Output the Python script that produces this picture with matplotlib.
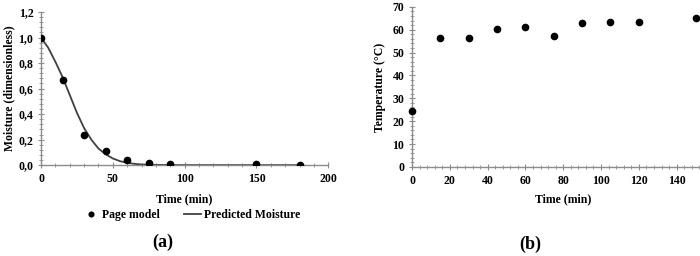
import matplotlib.pyplot as plt
from matplotlib.ticker import MultipleLocator

plt.rcParams['font.family'] = ['Liberation Serif', 'DejaVu Serif']
plt.rcParams['font.weight'] = 'bold'

# (a) drying data
tiempo_a = [0, 15, 30, 45, 60, 75, 90, 150, 180]
humedad = [1.0, 0.67, 0.24, 0.11, 0.04, 0.015, 0.01, 0.007, 0.0]
# predicted curve
tiempo_pred = [0, 5, 10, 15, 20, 25, 30, 35, 40, 45, 50, 55, 60, 65, 70, 80, 90, 100, 120, 150, 180]
humedad_pred = [1.0, 0.92, 0.81, 0.69, 0.55, 0.41, 0.29, 0.20, 0.13, 0.085, 0.052, 0.031, 0.018,
                0.010, 0.005, 0.002, 0.0005, 0.0, 0.0, 0.0, 0.0]
yticks_a = [0.0, 0.2, 0.4, 0.6, 0.8, 1.0, 1.2]
yticklabels_a = ['0,0', '0,2', '0,4', '0,6', '0,8', '1,0', '1,2']
xticks_a = [0, 50, 100, 150, 200]

# (b) temperature
tiempo_b = [0, 15, 30, 45, 60, 75, 90, 105, 120, 150]
temperatura = [24.5, 56.3, 56.2, 60.2, 61.2, 57.3, 63.1, 63.2, 63.5, 65.0]
yticks_b = [0, 10, 20, 30, 40, 50, 60, 70]
xticks_b = [0, 20, 40, 60, 80, 100, 120, 140]

gris = '#8c8c8c'
fs = 8.5
fig = plt.figure(figsize=(7, 2.56), dpi=100)
ax1 = fig.add_axes([0.0586, 0.355, 0.4104, 0.598])
ax2 = fig.add_axes([0.5886, 0.348, 0.432, 0.625])

for ax in (ax1, ax2):
    for s in ('top', 'right'):
        ax.spines[s].set_visible(False)
    for s in ('left', 'bottom'):
        ax.spines[s].set_color(gris)
        ax.spines[s].set_linewidth(1.0)
    ax.tick_params(which='both', direction='inout', color=gris, labelsize=fs, pad=3)
    ax.tick_params(which='major', length=5)
    ax.tick_params(which='minor', length=3)

# panel a
ax1.plot(tiempo_a, humedad, 'o', color='black', ms=4.5, label='Page model', zorder=3)
ax1.plot(tiempo_pred, humedad_pred, color='#404040', lw=1.3, label='Predicted Moisture', zorder=2)
ax1.set_xlim(0, 200)
ax1.set_ylim(0, 1.2)
ax1.set_xticks(xticks_a)
ax1.set_yticks(yticks_a)
ax1.set_yticklabels(yticklabels_a)
ax1.xaxis.set_minor_locator(MultipleLocator(10))
ax1.yaxis.set_minor_locator(MultipleLocator(0.04))
ax1.set_xlabel('Time (min)', fontsize=fs, fontweight='bold', labelpad=6)
ax1.set_ylabel('Moisture (dimensionless)', fontsize=fs, fontweight='bold', labelpad=2)
fig.legend(*ax1.get_legend_handles_labels(), loc='center', bbox_to_anchor=(0.273, 0.16), ncol=2,
           frameon=False, fontsize=fs, handlelength=1.5, handletextpad=0.2, columnspacing=2.0,
           markerscale=0.75)
fig.text(0.233, 0.055, '(a)', fontsize=13, fontweight='bold', ha='center', va='center')

# panel b
ax2.plot(tiempo_b, temperatura, 'o', color='black', ms=4.5, zorder=3, clip_on=False)
ax2.set_xlim(0, 160)
ax2.set_ylim(0, 70)
ax2.set_xticks(xticks_b)
ax2.set_yticks(yticks_b)
ax2.xaxis.set_minor_locator(MultipleLocator(4))
ax2.yaxis.set_minor_locator(MultipleLocator(2))
ax2.set_xlabel('Time (min)', fontsize=fs, fontweight='bold', labelpad=5)
ax2.set_ylabel('Temperature (°C)', fontsize=fs, fontweight='bold', labelpad=5)
fig.text(0.757, 0.047, '(b)', fontsize=13, fontweight='bold', ha='center', va='center')

fig.savefig('out.png', dpi=100)
